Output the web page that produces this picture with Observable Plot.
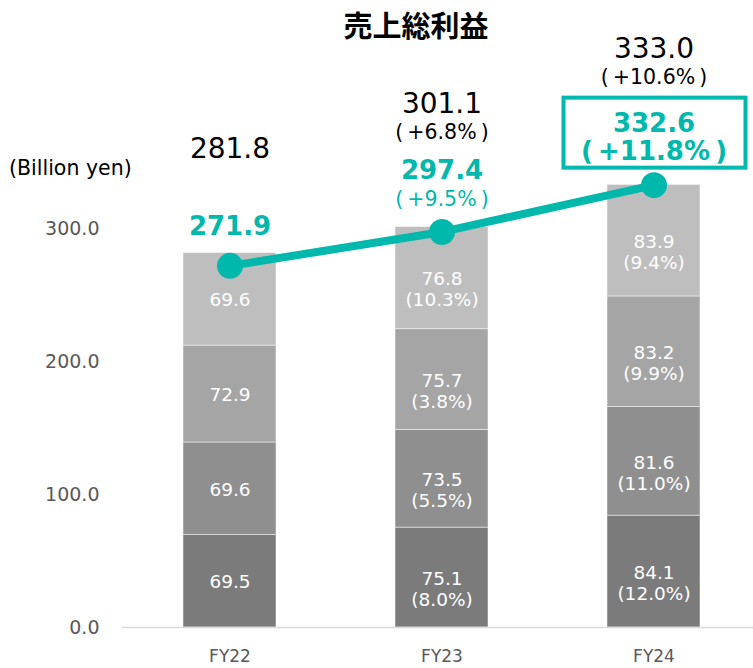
<!DOCTYPE html>
<html>
<head>
<meta charset="utf-8">
<script src="https://cdn.jsdelivr.net/npm/d3@7"></script>
<script src="https://cdn.jsdelivr.net/npm/@observablehq/plot@0.6"></script>
<style>
  html, body { margin: 0; padding: 0; background: #fff; }
  #wrap { position: relative; width: 753px; height: 668px; overflow: hidden; }
  #title { position: absolute; left: 0; width: 832px; top: 6px; text-align: center;
           font-family: "Noto Sans CJK JP", sans-serif; font-weight: 700; font-size: 29px; line-height: 36px; color: #000; }
  #unit { position: absolute; left: 9px; top: 155px; font-family: "DejaVu Sans", "Noto Sans CJK JP", sans-serif;
          font-size: 20.5px; line-height: 26px; color: #000; }
  #chart { position: absolute; left: 0; top: 0; }
</style>
</head>
<body>
<div id="wrap">
  <div id="chart"></div>
  <div id="title">売上総利益</div>
  <div id="unit">(Billion yen)</div>
</div>
<script>
// ---- data ----
const categories = ["FY22", "FY23", "FY24"];
const segmentNames = ["s1", "s2", "s3", "s4"]; // bottom to top
const seg1 = [69.5, 75.1, 84.1];
const seg2 = [69.6, 73.5, 81.6];
const seg3 = [72.9, 75.7, 83.2];
const seg4 = [69.6, 76.8, 83.9];
const segPct1 = ["", "(8.0%)", "(12.0%)"];
const segPct2 = ["", "(5.5%)", "(11.0%)"];
const segPct3 = ["", "(3.8%)", "(9.9%)"];
const segPct4 = ["", "(10.3%)", "(9.4%)"];
const totals = [281.8, 301.1, 333.0];
const totalGrowth = ["", "+6.8%", "+10.6%"];
const grossProfit = [271.9, 297.4, 332.6];
const profitGrowth = ["", "+9.5%", "+11.8%"];
const yTicks = [0, 100, 200, 300];

// ---- styles ----
const segColors = ["#7b7b7b", "#8f8f8f", "#a5a5a5", "#bebebe"];
const teal = "#00b8ab";
const FONT = "DejaVu Sans, Noto Sans CJK JP, sans-serif";
const blackDy = [-117, -128, -136];
const blackPctDy = [0, -100, -108];
const tealDy = [-39, -61, -61];
const tealPctDy = -33;
const paren = s => "(\u2009" + s + "\u2009)";

// build stacked rows
const segVals = [seg1, seg2, seg3, seg4];
const segPcts = [segPct1, segPct2, segPct3, segPct4];
const rows = [];
categories.forEach((c, i) => {
  let base = 0;
  segVals.forEach((arr, s) => {
    const v = arr[i];
    rows.push({cat: c, seg: segmentNames[s], y1: base, y2: base + v, mid: base + v / 2,
               label: v.toFixed(1) + (segPcts[s][i] ? "\n" + segPcts[s][i] : ""),
               two: !!segPcts[s][i]});
    base += v;
  });
});
const pts = categories.map((c, i) => ({cat: c, v: grossProfit[i]}));

const marks = [
  Plot.barY(rows, {x: "cat", y1: "y1", y2: "y2", fill: "seg", stroke: "#ffffff", strokeWidth: 0.8, strokeOpacity: 0.6}),
  Plot.ruleY([0], {stroke: "#d9d9d9", strokeWidth: 1.5}),
  Plot.text(rows.filter(d => !d.two), {x: "cat", y: "mid", text: "label", fill: "#fff", fontSize: 18.5, fontFamily: FONT, dy: 1}),
  Plot.text(rows.filter(d => d.two), {x: "cat", y: "mid", text: "label", fill: "#fff", fontSize: 18.5, fontFamily: FONT, dy: 11, lineHeight: 1.13}),
  Plot.axisY({ticks: yTicks, tickFormat: d => d.toFixed(1), tickSize: 0, tickPadding: 23, fontSize: 19, fontFamily: FONT, label: null}),
  Plot.axisX({tickSize: 0, tickPadding: 22, fontSize: 17, fontFamily: FONT, label: null}),
  Plot.line(pts, {x: "cat", y: "v", stroke: teal, strokeWidth: 8}),
  Plot.dot(pts, {x: "cat", y: "v", r: 13, fill: teal, stroke: null})
];

categories.forEach((c, i) => {
  marks.push(Plot.text([i], {x: d => categories[d], y: d => grossProfit[d], text: d => totals[d].toFixed(1),
    dy: blackDy[i], fontSize: 28, fill: "#000", fontFamily: FONT}));
  if (totalGrowth[i]) {
    marks.push(Plot.text([i], {x: d => categories[d], y: d => grossProfit[d], text: d => paren(totalGrowth[d]),
      dy: blackPctDy[i], fontSize: 20.5, fill: "#000", fontFamily: FONT}));
  }
  marks.push(Plot.text([i], {x: d => categories[d], y: d => grossProfit[d], text: d => grossProfit[d].toFixed(1),
    dy: tealDy[i], fontSize: 26, fontWeight: "bold", fill: teal, fontFamily: FONT}));
  if (profitGrowth[i]) {
    const boxed = i === categories.length - 1;
    marks.push(Plot.text([i], {x: d => categories[d], y: d => grossProfit[d], text: d => paren(profitGrowth[d]),
      dy: tealPctDy, fontSize: boxed ? 26 : 20.5, fontWeight: boxed ? "bold" : "normal", fill: teal, fontFamily: FONT}));
  }
});

const plot = Plot.plot({
  width: 753,
  height: 668,
  marginLeft: 122,
  marginRight: 0,
  marginTop: 60,
  marginBottom: 41,
  style: {color: "#595959", background: "transparent", overflow: "visible"},
  x: {domain: categories, range: [122, 760], paddingInner: 0.562, paddingOuter: 0.281},
  y: {domain: [0, 350], range: [627, 627 - 350 * 1.33]},
  color: {domain: segmentNames, range: segColors},
  marks
});

// highlight box around the latest gross profit label
const xs = plot.scale("x"), ys = plot.scale("y");
const last = categories.length - 1;
const cx = xs.apply(categories[last]) + xs.bandwidth / 2;
const cy = ys.apply(grossProfit[last]);
d3.select(plot).append("rect")
  .attr("x", cx - 90).attr("y", cy - 87).attr("width", 182).attr("height", 70)
  .attr("fill", "none").attr("stroke", teal).attr("stroke-width", 4);

document.getElementById("chart").appendChild(plot);
</script>
</body>
</html>
